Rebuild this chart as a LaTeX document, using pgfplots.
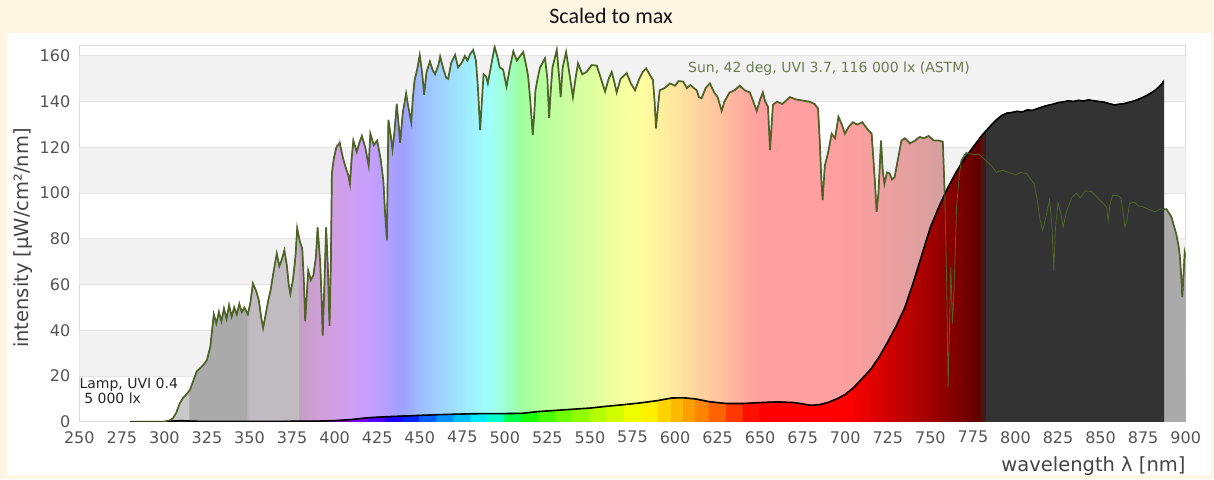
\documentclass[border=0pt]{standalone}
\usepackage{fontspec}
\setmainfont{DejaVu Sans}
\newfontfamily\titlefont{Carlito}
\usepackage{pgfplots}
\usepackage{pgfplotstable}
\pgfplotsset{compat=1.18}

\definecolor{cream}{RGB}{254,245,226}
\definecolor{bandgray}{RGB}{242,242,242}
\definecolor{gridgray}{RGB}{228,228,228}
\definecolor{framegray}{RGB}{217,217,217}
\definecolor{sunline}{RGB}{79,98,40}
\definecolor{suntext}{RGB}{110,125,85}
\definecolor{ticktext}{RGB}{85,85,85}
\definecolor{labeltext}{RGB}{68,68,68}
\definecolor{titletext}{RGB}{20,20,20}

\pgfplotsset{
 colormap={lampmap}{
  rgb255(280pt)=(60,60,60) rgb255(379pt)=(60,60,60)
  rgb255(380pt)=(97,0,97) rgb255(390pt)=(121,0,140) rgb255(400pt)=(131,0,181)
  rgb255(410pt)=(126,0,219) rgb255(420pt)=(106,0,255) rgb255(430pt)=(61,0,255)
  rgb255(440pt)=(0,0,255) rgb255(450pt)=(0,70,255) rgb255(460pt)=(0,123,255)
  rgb255(470pt)=(0,169,255) rgb255(480pt)=(0,213,255) rgb255(490pt)=(0,255,255)
  rgb255(500pt)=(0,255,146) rgb255(510pt)=(0,255,0) rgb255(520pt)=(54,255,0)
  rgb255(530pt)=(94,255,0) rgb255(540pt)=(129,255,0) rgb255(550pt)=(163,255,0)
  rgb255(560pt)=(195,255,0) rgb255(570pt)=(225,255,0) rgb255(580pt)=(255,255,0)
  rgb255(590pt)=(255,223,0) rgb255(600pt)=(255,190,0) rgb255(610pt)=(255,155,0)
  rgb255(620pt)=(255,119,0) rgb255(630pt)=(255,79,0) rgb255(640pt)=(255,33,0)
  rgb255(650pt)=(255,0,0) rgb255(700pt)=(255,0,0) rgb255(710pt)=(237,0,0)
  rgb255(720pt)=(219,0,0) rgb255(730pt)=(200,0,0) rgb255(740pt)=(181,0,0)
  rgb255(750pt)=(161,0,0) rgb255(760pt)=(140,0,0) rgb255(770pt)=(119,0,0)
  rgb255(781pt)=(90,0,0) rgb255(782pt)=(51,51,51) rgb255(900pt)=(51,51,51)
 },
 colormap={sunmap}{
  rgb255(280pt)=(200,200,200) rgb255(314pt)=(200,200,200)
  rgb255(315pt)=(170,170,170) rgb255(349pt)=(170,170,170)
  rgb255(350pt)=(192,186,193) rgb255(379pt)=(192,186,193)
  rgb255(380pt)=(196,159,196) rgb255(390pt)=(205,159,212) rgb255(400pt)=(209,159,227)
  rgb255(410pt)=(207,159,242) rgb255(420pt)=(199,159,255) rgb255(430pt)=(182,159,255)
  rgb255(440pt)=(159,159,255) rgb255(450pt)=(159,186,255) rgb255(460pt)=(159,206,255)
  rgb255(470pt)=(159,223,255) rgb255(480pt)=(159,239,255) rgb255(490pt)=(159,255,255)
  rgb255(500pt)=(159,255,214) rgb255(510pt)=(159,255,159) rgb255(520pt)=(180,255,159)
  rgb255(530pt)=(195,255,159) rgb255(540pt)=(208,255,159) rgb255(550pt)=(220,255,159)
  rgb255(560pt)=(233,255,159) rgb255(570pt)=(244,255,159) rgb255(580pt)=(255,255,159)
  rgb255(590pt)=(255,243,159) rgb255(600pt)=(255,231,159) rgb255(610pt)=(255,218,159)
  rgb255(620pt)=(255,204,159) rgb255(630pt)=(255,189,159) rgb255(640pt)=(255,172,159)
  rgb255(650pt)=(255,159,159) rgb255(700pt)=(255,159,159) rgb255(710pt)=(248,159,159)
  rgb255(720pt)=(242,159,159) rgb255(730pt)=(234,159,159) rgb255(740pt)=(227,159,159)
  rgb255(750pt)=(220,159,159) rgb255(760pt)=(212,159,159) rgb255(770pt)=(204,159,159)
  rgb255(781pt)=(196,159,159) rgb255(782pt)=(170,170,170) rgb255(900pt)=(170,170,170)
 },
}

\pgfplotstableread{
x y
280 0
290 0
298 0
301 0.2
303 0.6
305 1.5
307 4
309 8
311 10.5
313 12
315 14
317 18
319 22
321 23.5
323 25
325 27
327 33
329 47
330.5 43
332 48
333.5 44
335 49.5
336.5 45
338 51
339.5 46
341 50
342.5 47
344 51.5
345.5 48
347 50
349 47
350.5 52
352 60.5
354 57
355.5 53
357 45
358 41
359.5 47
361 53
362.5 58
364 65
366 73.6
367.5 68
369 71
370.5 75
372 68
373 60
374 56
375.5 62
377 72
378 84.6
379.5 79
381 75.8
382 60
382.7 44
383.6 55
384.5 66
386 62
387.5 64
389 72
390 85
391.5 70
392.3 55
393 37.7
394 60
395 85
396 68
397 42
397.8 70
398.4 108.6
399.5 115
401 120
403 122
405 115
407 110
408 108
409 104
410 115
411 123
413 118
414.5 122
416 125
418 120
419 116
420 112
421 126
423 121
425 123
427 115
428.6 105.7
429.6 92
430.7 79.5
431.6 132
433 125
434 119
435.3 128
436.5 139
437.6 130
438.5 122
440 135
442 143.6
443 139
444 135
445 131
446 142
447 149.5
448.5 154
450 160.4
451.5 152
452.6 143
454 153
456 157.5
457.5 154
459 152
461 156
462 159.7
464 154
465.5 150.5
466.7 150
468.5 157
470.8 160.4
472.5 155
474.7 157
476.5 160
478 158
479.8 161
481.4 162.6
483 158
484.2 146
485.5 127.6
486.5 140
487.5 152
489 151
490 148
492 156
494 164
495.5 160
497 155
499 154
501 146.6
503 155
505 162
507 158
509 160
510.8 161.7
512.5 156
513.7 151
515 140
516.4 125.4
517.3 135
518 145
519.5 151
520.7 155
523.6 159
525 150
526 133
527 145
528 155
530.5 162.6
532 150
532.8 142
534 155
536 161.7
538 152
540 142
541.5 150
543 156.8
545.5 152
548 153
551 156
554 155.8
556.5 150
558.9 144.4
561 150
562.8 153
564.5 148
565.7 144
568 150
571.6 152.5
574 148
576.5 145
579 150
581 153
583 154.6
585 152
587 149.5
588 140
588.8 128.4
589.5 134
590 138
591 145
594 146
597 148
600 147
602 149
604.7 148.8
607 146
609 147.3
611 146
612.7 145
614 142
615.6 141.5
618 146
620.5 148
623 144
625 142
627.4 136
629 140
632 144
635 145
638 147
641 145
644 144
646 140
648 136
650 141
651.6 144
653 140
654.6 137.8
655.8 118.8
657.5 138.7
660 140
663 139
667.5 142
671 141
675 140.5
679 140
682 139
684 137
685 123
686 105
686.7 97
687.3 104
688 112
690 118
692 126
694 124
696 133.4
698 130
699.8 126
702 129
704.5 131
707 130
710 131
713 128
715.5 126
716.5 115
717.5 104
718.4 91.8
719.5 100
721 123
722 110
723 104
724.5 109
726 108.6
727.5 106
729 107
731 115
733 123
735 124
738 121.8
741 123
743.8 124.6
746 124
749 125
752 123
755 123
757.3 122.5
758.5 98
759.5 65
760.4 15
761.2 40
762 67.7
763 43
764 60
765.4 94
767 108
768.3 114.4
771 117.5
775 117
779 116.8
783 114
786 112
788.8 109
792 110
796.6 109
800 108
803 109
806.5 108.6
809 106
811 104
813 96
814.5 88
816 83.7
818 90
820 97
821.5 85
822.5 66
823.5 85
825 95.6
827 90
828 85
830 92
833 98
835.8 100
838 98
841 101
844.7 100.7
847 99
849.5 97
851 96
853.5 94
854.4 88
855.5 95
857 99
860 99
862 98
863.5 90
864.3 85
865.5 88
867 95.6
870 96
872 94.5
874.8 94
878 93
881.8 91.8
885 93
888.7 93
891.6 89.6
894.5 82
896 76
896.6 72
897.5 62
898 54.5
898.8 65
899.4 74
900 72
}\sundata

\pgfplotstableread{
x y
280 0
300 0
305 0.3
310 0.5
315 0.3
320 0.2
330 0.2
350 0.2
370 0.2
390 0.3
400 0.5
410 1
420 1.8
430 2.2
440 2.5
450 2.8
460 3.1
470 3.3
480 3.5
490 3.6
500 3.6
510 3.7
520 4.5
530 5
540 5.5
550 6
560 6.8
570 7.5
580 8.3
590 9.3
598 10.4
605 10.5
612 10
620 8.8
630 8
640 8
650 8.4
660 8.7
670 8.4
680 7.2
685 7.5
690 8.5
695 10
700 12
705 15
710 19
715 23
720 28.5
725 35
730 42
735 50
740 61
745 73
750 85
755 94
760 102
765 109
770 115
775 120
780 125
783 127.5
786 130
789 132.2
792 134
795 135
798 135.3
801 135.8
804 135.5
807 136.4
810 136.2
813 137
816 137.8
819 138.4
822 138.9
825 139.6
828 139.9
831 140.4
834 140.1
837 140.6
840 140.3
843 140.8
846 140.4
849 140.1
852 139.8
855 139.2
858 138.6
861 138.9
864 139.2
867 139.8
870 140.4
873 141.3
876 142.3
879 143.5
882 145
884 146.3
886 147.8
887 149
}\lampdata

% surface tables: a zero row below each curve, for the coloured fills
\pgfplotstablegetrowsof{\sundata}\let\nsun\pgfplotsretval
\pgfplotstablenew[
 create on use/x/.style={create col/copy column from table={\sundata}{x}},
 create on use/y/.style={create col/set={0}},
 columns={x,y}]{\nsun}\sunsurf
\pgfplotstablevertcat{\sunsurf}{\sundata}

\pgfplotstablegetrowsof{\lampdata}\let\nlamp\pgfplotsretval
\pgfplotstablenew[
 create on use/x/.style={create col/copy column from table={\lampdata}{x}},
 create on use/y/.style={create col/set={0}},
 columns={x,y}]{\nlamp}\lampsurf
\pgfplotstablevertcat{\lampsurf}{\lampdata}

\begin{document}
\begin{tikzpicture}[x=1pt,y=1pt]
\useasboundingbox (0pt,0pt) rectangle (1214pt,479pt);
\fill[cream] (0pt,0pt) rectangle (1214pt,479pt);
\fill[white] (7pt,4pt) rectangle (1211pt,446pt);
\node[font=\titlefont\fontsize{22}{26}\selectfont, text=titletext] at (611pt,463pt) {Scaled to max};

\begin{axis}[
 at={(79.3pt,57.2pt)}, anchor=south west,
 scale only axis, width=1106.4pt, height=376.1pt,
 xmin=250, xmax=900, ymin=0, ymax=164.5,
 xtick={250,275,...,900},
 ytick={0,20,...,160},
 major tick length=0pt,
 axis line style={framegray, line width=0.8pt},
 tick label style={font=\fontsize{16}{19}\selectfont, text=ticktext},
 /pgf/number format/assume math mode=true,
 /pgf/number format/1000 sep={},
 yticklabel style={xshift=-5.5pt},
 xticklabel style={yshift=-6pt},
]
% background bands and grid
\fill[bandgray] (axis cs:250,20) rectangle (axis cs:900,40);
\fill[bandgray] (axis cs:250,60) rectangle (axis cs:900,80);
\fill[bandgray] (axis cs:250,100) rectangle (axis cs:900,120);
\fill[bandgray] (axis cs:250,140) rectangle (axis cs:900,160);
\pgfplotsinvokeforeach{20,40,60,80,100,120,140,160}{
 \draw[gridgray, line width=1pt] (axis cs:250,#1) -- (axis cs:900,#1);
}
% sun fill (pastel spectrum)
\addplot[surf, shader=faceted, faceted color=mapped color, line width=1pt,
 mesh/rows=2, point meta=x,
 point meta min=280, point meta max=900, colormap name=sunmap]
 table[x=x,y=y] {\sunsurf};
\addplot[sunline, line width=1.7pt] table[x=x,y=y] {\sundata};
% lamp fill (saturated spectrum)
\addplot[surf, shader=faceted, faceted color=mapped color, line width=1pt,
 mesh/rows=2, point meta=x,
 point meta min=280, point meta max=900, colormap name=lampmap]
 table[x=x,y=y] {\lampsurf};
\addplot[black, line width=1.6pt] table[x=x,y=y] {\lampdata};
\addplot[sunline, line width=0.8pt] table[x=x,y=y] {\sundata};

\node[anchor=west, inner sep=0pt, text=suntext, font=\fontsize{14}{16}\selectfont]
 at (axis cs:607.6,154.3) {Sun, 42 deg, UVI 3.7, 116 000 lx (ASTM)};
\node[anchor=west, inner sep=0pt, text=black!85, font=\fontsize{14}{16}\selectfont]
 at (axis cs:250,16.1) {Lamp, UVI 0.4};
\node[anchor=west, inner sep=0pt, text=black!85, font=\fontsize{14}{16}\selectfont]
 at (axis cs:252.8,10.3) {5 000 lx};
\end{axis}

\node[anchor=east, inner sep=0pt, text=labeltext, font=\fontsize{19.5}{23}\selectfont]
 at (1185.7pt,12.5pt) {wavelength λ [nm]};
\node[rotate=90, inner sep=0pt, text=labeltext, font=\fontsize{19.5}{23}\selectfont]
 at (23pt,241pt) {intensity [µW/cm²/nm]};
\end{tikzpicture}
\end{document}
